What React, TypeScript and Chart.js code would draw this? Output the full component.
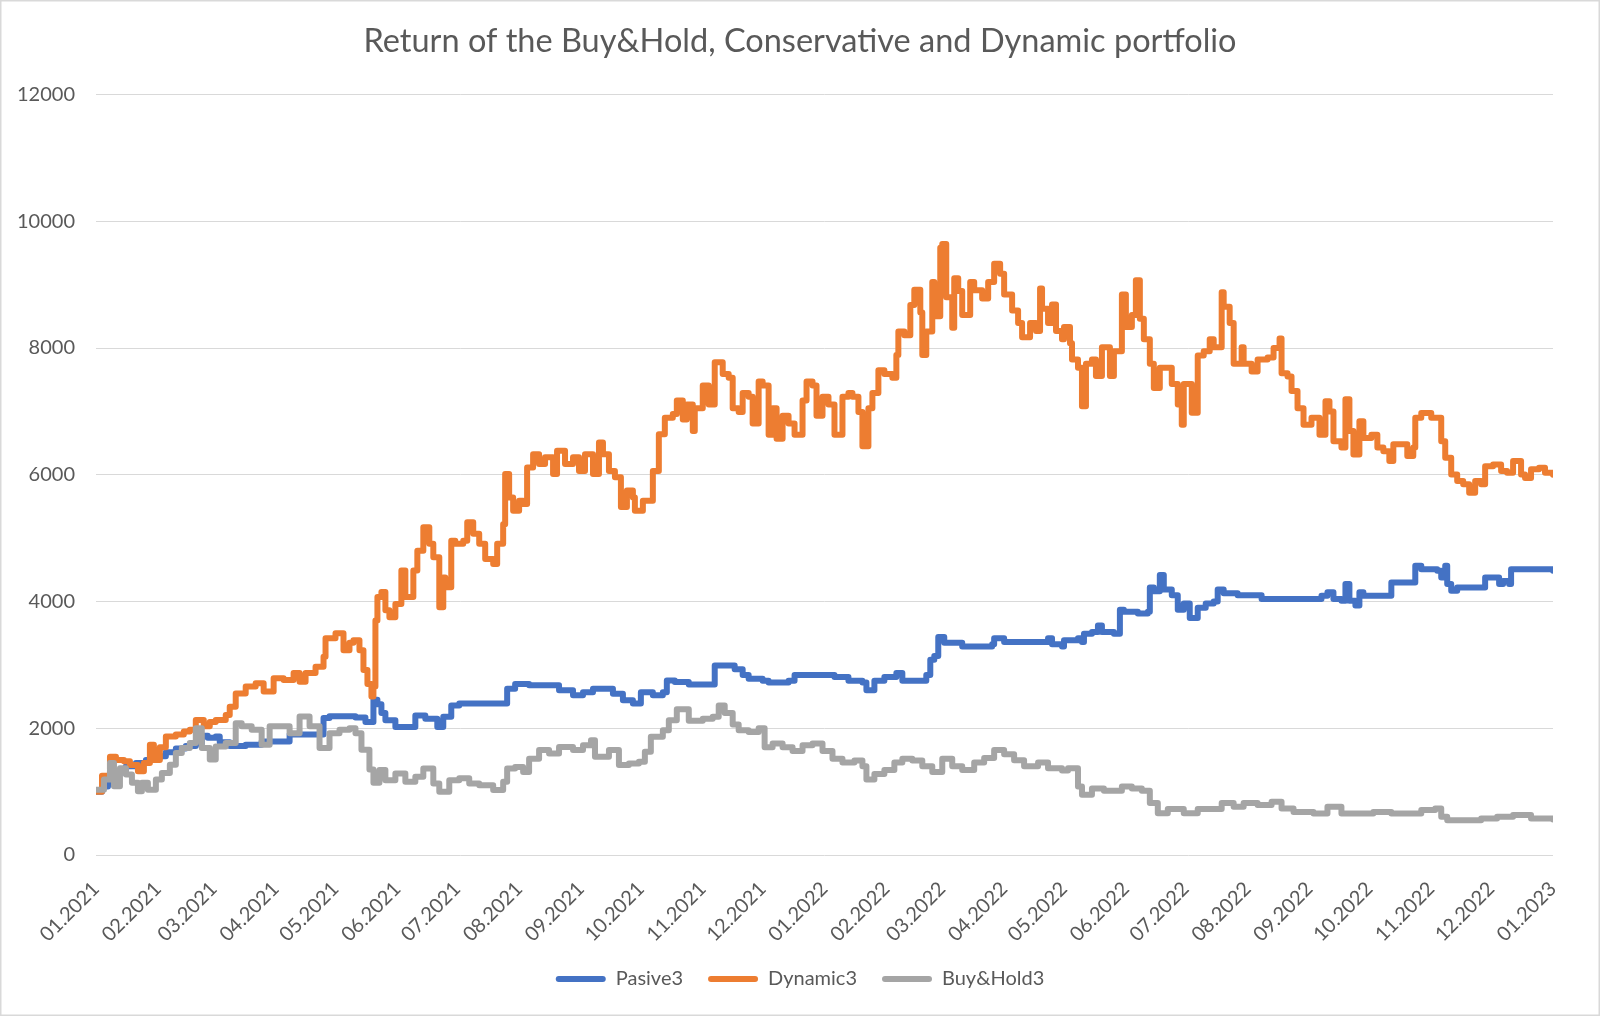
import { useEffect, useRef } from "react";
import { Chart, registerables } from "chart.js";

Chart.register(...registerables);

const titleText = "Return of the Buy&Hold, Conservative and Dynamic portfolio";

const monthLabels = [
  "01.2021", "02.2021", "03.2021", "04.2021", "05.2021", "06.2021", "07.2021",
  "08.2021", "09.2021", "10.2021", "11.2021", "12.2021", "01.2022", "02.2022",
  "03.2022", "04.2022", "05.2022", "06.2022", "07.2022", "08.2022", "09.2022",
  "10.2022", "11.2022", "12.2022", "01.2023",
];

const yTicks = [0, 2000, 4000, 6000, 8000, 10000, 12000];

// x values: days since 01.01.2021
const pasiveDays = [
  0, 3, 6, 10, 15, 20, 25, 30, 35, 40, 45, 50, 53, 56, 60, 62, 67, 75, 83, 97,
  114, 117, 130, 135, 139, 141, 143, 145, 150, 160, 165, 171, 174, 178, 182, 206,
  210, 217, 232, 239, 244, 249, 259, 264, 269, 273, 279, 284, 286, 290, 297, 310,
  320, 324, 327, 334, 337, 347, 350, 370, 377, 384, 386, 390, 395, 401, 404, 416,
  418, 420, 422, 425, 434, 449, 450, 455, 477, 479, 484, 485, 492, 494, 495, 499,
  502, 504, 510, 513, 515, 522, 527, 528, 530, 533, 535, 539, 542, 545, 548, 552,
  556, 560, 562, 565, 572, 584, 614, 617, 620, 624, 626, 628, 631, 633, 635, 649,
  661, 664, 672, 674, 676, 677, 679, 682, 696, 703, 705, 708, 709, 730,
];
const pasiveValues = [
  1000, 1080, 1200, 1300, 1400, 1450, 1500, 1560, 1620, 1680, 1720, 1760, 1880, 1850, 1870, 1780, 1720, 1740, 1790, 1900,
  2160, 2190, 2170, 2100, 2450, 2380, 2240, 2125, 2020, 2200, 2150, 2020, 2180, 2360, 2390, 2625,
  2700, 2680, 2600, 2520, 2570, 2625, 2545, 2440, 2390, 2570, 2520, 2570, 2755, 2730, 2690, 2990,
  2930, 2840, 2780, 2750, 2720, 2750, 2840, 2810, 2750, 2720, 2600, 2750, 2810, 2870, 2750, 2840,
  3080, 3140, 3440, 3350, 3290, 3325, 3420, 3360, 3420, 3325, 3290, 3390, 3420, 3360, 3490, 3520,
  3620, 3520, 3490, 3870, 3840, 3810, 3840, 4220, 4160, 4420, 4190, 4100, 3870, 3970, 3740, 3900,
  3970, 4000, 4190, 4130, 4100, 4040, 4090, 4145, 4040, 4010, 4275, 4010, 3935, 4145, 4090, 4300,
  4565, 4510, 4485, 4380, 4565, 4275, 4170, 4220, 4380, 4275, 4325, 4275, 4510, 4485,
];

const dynamicDays = [
  0, 3, 7, 10, 14, 17, 21, 24, 27, 29, 32, 35, 40, 44, 47, 50, 54, 57, 60, 65,
  67, 70, 75, 80, 84, 89, 94, 99, 102, 105, 110, 114, 115, 120, 124, 127, 129, 132, 134, 136,
  138, 139, 140, 141, 143, 145, 147, 150, 153, 155, 159, 161, 164, 167, 169, 172, 174, 175, 178, 180,
  184, 186, 189, 192, 195, 199, 201, 204, 205, 207, 209, 212, 214, 216, 219, 222, 225, 229, 231, 235,
  239, 242, 245, 249, 252, 254, 257, 260, 263, 266, 269, 270, 274, 276, 279, 282, 285, 289, 291, 294,
  296, 299, 300, 304, 307, 310, 314, 317, 319, 322, 324, 327, 329, 332, 334, 337, 339, 341, 344, 347,
  350, 354, 356, 359, 361, 364, 367, 370, 374, 377, 379, 382, 384, 387, 389, 392, 395, 399, 401, 402,
  405, 408, 410, 413, 414, 416, 419, 420, 423, 424, 426, 429, 430, 432, 434, 436, 438, 440, 444, 447,
  450, 453, 455, 459, 462, 464, 468, 471, 473, 474, 477, 479, 481, 484, 485, 488, 489, 492, 494, 496,
  499, 501, 504, 508, 510, 514, 516, 519, 521, 523, 525, 528, 530, 533, 535, 539, 542, 544, 545, 549,
  552, 555, 558, 560, 564, 565, 568, 570, 574, 575, 579, 582, 587, 590, 593, 594, 597, 599, 602, 605,
  609, 613, 616, 618, 620, 624, 626, 628, 630, 633, 635, 639, 642, 645, 648, 650, 654, 657, 660, 661,
  664, 669, 672, 674, 676, 679, 682, 685, 688, 691, 694, 696, 700, 704, 707, 710, 714, 716, 719, 723,
  726, 730,
];
const dynamicValues = [
  1000, 1250, 1550, 1500, 1480, 1420, 1320, 1450, 1740, 1500, 1700, 1870, 1900, 1950, 1975, 2130, 2030, 2100, 2130, 2210,
  2340, 2550, 2660, 2710, 2580, 2790, 2760, 2870, 2735, 2870, 2970, 3130, 3420, 3500, 3230, 3350, 3390, 3230, 2920, 2700,
  2500, 2660, 3700, 4070, 4150, 3860, 3750, 3960, 4490, 4070, 4490, 4800, 5170, 4910, 4700, 3910, 4380, 4225, 4960, 4910,
  4960, 5250, 5070, 4910, 4670, 4590, 4910, 5220, 6010, 5640, 5430, 5590, 5540, 6115, 6325, 6170, 6275, 6010, 6380, 6170,
  6275, 6060, 6325, 6010, 6510, 6325, 6060, 5960, 5490, 5750, 5640, 5430, 5590, 5590, 6060, 6640, 6900, 6960, 7170, 6870,
  7110, 6690, 7050, 7410, 7110, 7775, 7590, 7530, 7050, 6990, 7290, 7230, 6810, 7470, 7410, 6630, 7050, 6570, 6930, 6810,
  6630, 7170, 7470, 7410, 6930, 7230, 7110, 6630, 7230, 7290, 7230, 6990, 6450, 7050, 7290, 7650, 7590, 7530, 7890, 8260,
  8200, 8680, 8920, 8560, 7890, 8260, 9040, 8500, 9580, 9640, 8800, 8320, 9100, 8900, 8520, 8520, 9040, 8910, 8780, 9040,
  9330, 9170, 8845, 8590, 8395, 8170, 8395, 8270, 8940, 8620, 8395, 8685, 8270, 8140, 8330, 8075, 7820, 7690, 7080, 7750,
  7820, 7560, 8010, 7560, 7950, 8845, 8330, 8520, 9070, 8460, 8140, 7750, 7370, 7690, 7690, 7430, 7110, 6790, 7430, 6980,
  7880, 7950, 8140, 8010, 8880, 8650, 8395, 7750, 8010, 7750, 7630, 7820, 7850, 8000, 8150, 7600, 7550, 7320, 7050, 6790,
  6900, 6630, 7160, 7000, 6530, 6430, 7190, 6690, 6320, 6845, 6580, 6630, 6430, 6370, 6215, 6480, 6480, 6295, 6430, 6900,
  6975, 6900, 6900, 6530, 6270, 6005, 5900, 5850, 5715, 5900, 5850, 6135, 6160, 6060, 6030, 6215, 6005, 5950, 6085, 6110,
  6030, 6000,
];

const buyHoldDays = [
  0, 4, 7, 9, 12, 15, 18, 21, 23, 26, 30, 33, 37, 40, 43, 47, 50, 53, 57, 60,
  65, 70, 73, 78, 83, 87, 92, 97, 102, 107, 112, 117, 122, 127, 130, 133, 137, 139, 142, 145,
  150, 155, 160, 164, 169, 172, 177, 182, 187, 192, 199, 204, 206, 210, 214, 217, 222, 227, 232, 239,
  244, 248, 250, 257, 262, 267, 272, 275, 278, 284, 287, 291, 297, 304, 309, 312, 315, 319, 322, 327,
  332, 335, 339, 344, 349, 354, 359, 364, 369, 374, 380, 384, 386, 390, 395, 400, 404, 409, 414, 419,
  424, 429, 434, 440, 445, 450, 455, 460, 465, 472, 477, 484, 487, 492, 494, 499, 505, 514, 519, 524,
  528, 532, 537, 542, 545, 552, 559, 564, 570, 575, 582, 589, 594, 600, 610, 617, 624, 630, 640, 649,
  657, 664, 671, 674, 677, 685, 694, 702, 710, 719, 730,
];
const buyHoldValues = [
  1030, 1190, 1450, 1085, 1370, 1270, 1140, 1006, 1140, 1030, 1190, 1295, 1425, 1610, 1690, 1766, 2000, 1690, 1505, 1713,
  1766, 2080, 2030, 1975, 1740, 2030, 2030, 1923, 2185, 2030, 1690, 1923, 1975, 2000, 1923, 1660, 1350, 1140, 1340, 1180,
  1285, 1155, 1235, 1365, 1130, 1000, 1180, 1210, 1130, 1100, 1025, 1155, 1365, 1390, 1310, 1520, 1655, 1600, 1705, 1655,
  1730, 1810, 1550, 1655, 1420, 1445, 1470, 1630, 1865, 1970, 2125, 2300, 2120, 2150, 2180, 2360, 2240, 2060, 1970, 1940,
  2000, 1700, 1760, 1700, 1640, 1730, 1760, 1640, 1520, 1460, 1490, 1400, 1190, 1280, 1340, 1460, 1520, 1490, 1400, 1310,
  1520, 1400, 1340, 1460, 1530, 1655, 1590, 1495, 1400, 1460, 1370, 1335, 1370, 1080, 950, 1050, 1015, 1080, 1050, 1015,
  820, 660, 725, 725, 660, 725, 725, 820, 760, 820, 790, 840, 735, 680, 655, 760, 655, 655, 680, 655,
  655, 710, 735, 603, 550, 550, 577, 603, 630, 577, 560,
];

const FONT = "Lato, 'Open Sans', 'DejaVu Sans', sans-serif";
const TEXT = "#595959";

const dayOf = (label: string) => {
  const [m, y] = label.split(".").map(Number);
  return (Date.UTC(y, m - 1, 1) - Date.UTC(2021, 0, 1)) / 86400000;
};
const monthTicks = monthLabels.map(dayOf);

const toPoints = (days: number[], vals: number[]) =>
  days.map((d, i) => ({ x: d, y: vals[i] }));

const frame = {
  id: "frame",
  beforeDraw(chart: any) {
    const { ctx, width, height } = chart;
    ctx.save();
    ctx.fillStyle = "#ffffff";
    ctx.fillRect(0, 0, width, height);
    ctx.strokeStyle = "#D9D9D9";
    ctx.lineWidth = 3;
    ctx.strokeRect(0, 0, width, height);
    ctx.restore();
  },
};

export default function App() {
  const ref = useRef<HTMLCanvasElement | null>(null);

  useEffect(() => {
    document.body.style.margin = "0";
    if (!ref.current) return;
    const chart = new Chart(ref.current, {
      type: "line",
      data: {
        datasets: [
          {
            label: "Pasive3",
            data: toPoints(pasiveDays, pasiveValues),
            borderColor: "#4472C4",
            backgroundColor: "#4472C4",
            order: 3,
          },
          {
            label: "Dynamic3",
            data: toPoints(dynamicDays, dynamicValues),
            borderColor: "#ED7D31",
            backgroundColor: "#ED7D31",
            order: 2,
          },
          {
            label: "Buy&Hold3",
            data: toPoints(buyHoldDays, buyHoldValues),
            borderColor: "#A5A5A5",
            backgroundColor: "#A5A5A5",
            order: 1,
          },
        ],
      },
      options: {
        animation: false,
        responsive: false,
        events: [],
        elements: {
          point: { radius: 0 },
          line: {
            borderWidth: 6,
            stepped: true,
            tension: 0,
            borderJoinStyle: "round",
            borderCapStyle: "round",
          },
        },
        layout: { padding: { left: 0, right: 0, top: 0, bottom: 17 } },
        plugins: {
          title: {
            display: true,
            text: titleText,
            color: TEXT,
            font: { family: FONT, size: 32.5, weight: "normal" },
            padding: { top: 22, bottom: 33.5 },
          },
          legend: {
            position: "bottom",
            labels: {
              color: TEXT,
              font: { family: FONT, size: 20 },
              boxWidth: 50,
              boxHeight: 6,
              padding: 25,
              generateLabels: (c: any) =>
                c.data.datasets.map((ds: any, i: number) => ({
                  text: ds.label,
                  fillStyle: ds.borderColor,
                  strokeStyle: ds.borderColor,
                  lineWidth: 0,
                  borderRadius: 3,
                  fontColor: TEXT,
                  hidden: false,
                  datasetIndex: i,
                })),
            },
          },
          tooltip: { enabled: false },
        },
        scales: {
          x: {
            type: "linear",
            min: monthTicks[0],
            max: monthTicks[monthTicks.length - 1],
            afterBuildTicks: (s: any) => {
              s.ticks = monthTicks.map((v) => ({ value: v }));
            },
            afterFit: (s: any) => {
              s.height = 89;
            },
            ticks: {
              autoSkip: false,
              minRotation: 45,
              maxRotation: 45,
              padding: 14,
              color: TEXT,
              font: { family: FONT, size: 20 },
              callback: (_v: any, i: number) => monthLabels[i],
            },
            grid: { display: false },
            border: { display: false },
          },
          y: {
            type: "linear",
            min: yTicks[0],
            max: yTicks[yTicks.length - 1],
            afterBuildTicks: (s: any) => {
              s.ticks = yTicks.map((v) => ({ value: v }));
            },
            afterFit: (s: any) => {
              s.width = 96;
            },
            ticks: {
              padding: 21,
              color: TEXT,
              font: { family: FONT, size: 20 },
              callback: (v: any) => String(v),
            },
            grid: { color: "#D9D9D9", lineWidth: 1, drawTicks: false },
            border: { display: false },
          },
          yRight: {
            type: "linear",
            position: "right",
            min: 0,
            max: 1,
            afterFit: (s: any) => {
              s.width = 47;
            },
            ticks: { display: false },
            grid: { display: false },
            border: { display: false },
          },
        },
      } as any,
      plugins: [frame],
    });
    return () => chart.destroy();
  }, []);

  return (
    <div style={{ width: 1600, height: 1016, position: "relative" }}>
      <canvas ref={ref} width={1600} height={1016} style={{ display: "block" }} />
    </div>
  );
}
